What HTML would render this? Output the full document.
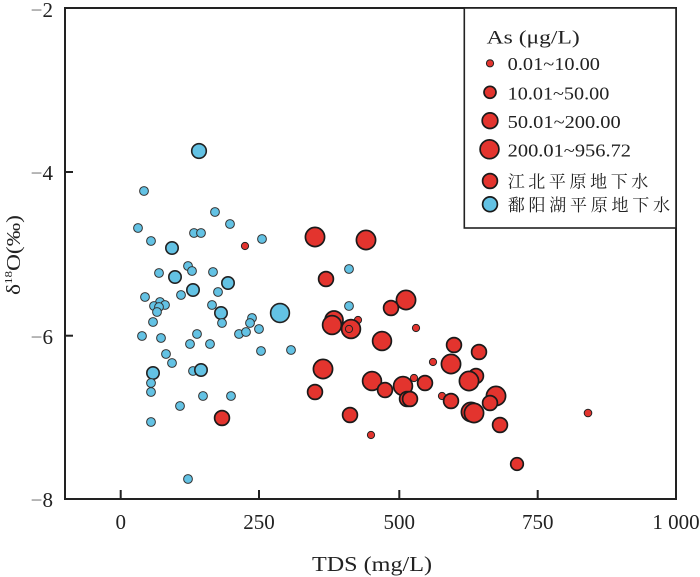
<!DOCTYPE html>
<html>
<head>
<meta charset="utf-8">
<style>
html,body{margin:0;padding:0;background:#fff;}
svg{display:block;}
text{font-family:"Liberation Serif","Noto Serif CJK SC","Noto Sans CJK SC",serif;fill:#222;}
.b{fill:#63C2E4;stroke:#333;stroke-width:1;}
.bl{fill:#63C2E4;stroke:#222;stroke-width:1.6;}
.r{fill:#E3342E;stroke:#222;stroke-width:1;}
.rl{fill:#E3342E;stroke:#1a1a1a;stroke-width:1.7;}
</style>
</head>
<body>
<svg width="700" height="577" viewBox="0 0 700 577" xmlns="http://www.w3.org/2000/svg">
<rect x="0" y="0" width="700" height="577" fill="#fff"/>

<!-- blue points -->
<g>
<circle class="b" cx="144" cy="191" r="4.4"/>
<circle class="b" cx="215" cy="212" r="4.4"/>
<circle class="b" cx="230" cy="224" r="4.4"/>
<circle class="b" cx="138" cy="228" r="4.4"/>
<circle class="b" cx="194" cy="233" r="4.4"/>
<circle class="b" cx="201" cy="233" r="4.4"/>
<circle class="b" cx="151" cy="241" r="4.4"/>
<circle class="bl" cx="172" cy="248" r="6.2"/>
<circle class="b" cx="262" cy="239" r="4.4"/>
<circle class="b" cx="349" cy="269" r="4.4"/>
<circle class="b" cx="188" cy="266" r="4.4"/>
<circle class="b" cx="192" cy="271" r="4.4"/>
<circle class="b" cx="159" cy="273" r="4.4"/>
<circle class="bl" cx="175" cy="277" r="6.2"/>
<circle class="b" cx="213" cy="272" r="4.4"/>
<circle class="bl" cx="228" cy="283" r="6.2"/>
<circle class="bl" cx="193" cy="290" r="6.2"/>
<circle class="b" cx="181" cy="295" r="4.4"/>
<circle class="b" cx="145" cy="297" r="4.4"/>
<circle class="b" cx="218" cy="292" r="4.4"/>
<circle class="b" cx="160" cy="302" r="4.4"/>
<circle class="b" cx="165" cy="305" r="4.4"/>
<circle class="b" cx="154" cy="306" r="4.4"/>
<circle class="b" cx="159" cy="307" r="4.4"/>
<circle class="b" cx="157" cy="312" r="4.4"/>
<circle class="b" cx="212" cy="305" r="4.4"/>
<circle class="bl" cx="221" cy="313" r="6.2"/>
<circle class="b" cx="222" cy="323" r="4.4"/>
<circle class="b" cx="252" cy="318" r="4.4"/>
<circle class="b" cx="250" cy="323" r="4.4"/>
<circle class="b" cx="259" cy="329" r="4.4"/>
<circle class="b" cx="239" cy="334" r="4.4"/>
<circle class="b" cx="246" cy="332" r="4.4"/>
<circle class="b" cx="349" cy="306" r="4.4"/>
<circle class="b" cx="153" cy="322" r="4.4"/>
<circle class="b" cx="142" cy="336" r="4.4"/>
<circle class="b" cx="161" cy="338" r="4.4"/>
<circle class="b" cx="197" cy="334" r="4.4"/>
<circle class="b" cx="190" cy="344" r="4.4"/>
<circle class="b" cx="210" cy="344" r="4.4"/>
<circle class="b" cx="166" cy="354" r="4.4"/>
<circle class="b" cx="172" cy="363" r="4.4"/>
<circle class="bl" cx="153" cy="373" r="6.2"/>
<circle class="b" cx="151" cy="383" r="4.4"/>
<circle class="b" cx="151" cy="392" r="4.4"/>
<circle class="b" cx="193" cy="371" r="4.4"/>
<circle class="bl" cx="201" cy="370" r="6.2"/>
<circle class="b" cx="261" cy="351" r="4.4"/>
<circle class="b" cx="291" cy="350" r="4.4"/>
<circle class="b" cx="203" cy="396" r="4.4"/>
<circle class="b" cx="231" cy="396" r="4.4"/>
<circle class="b" cx="180" cy="406" r="4.4"/>
<circle class="b" cx="151" cy="422" r="4.4"/>
<circle class="b" cx="188" cy="479" r="4.4"/>
<circle class="bl" cx="199" cy="151" r="7.3"/>
<circle class="bl" cx="280" cy="313" r="9.4"/>
</g>

<!-- red points -->
<g>
<circle class="r" cx="245" cy="246" r="3.6"/>
<circle class="rl" cx="315" cy="237" r="9.6"/>
<circle class="rl" cx="366" cy="240" r="9.6"/>
<circle class="rl" cx="326" cy="279" r="7.4"/>
<circle class="rl" cx="222" cy="418" r="7.4"/>
<circle class="rl" cx="334" cy="320" r="9"/>
<circle class="rl" cx="332" cy="325" r="9.4"/>
<circle class="r" cx="358" cy="320" r="3.6"/>
<circle class="rl" cx="351" cy="329" r="9.4"/>
<circle class="r" cx="349" cy="329" r="3.6"/>
<circle class="rl" cx="323" cy="369" r="9.6"/>
<circle class="rl" cx="315" cy="392" r="7.4"/>
<circle class="rl" cx="350" cy="415" r="7.4"/>
<circle class="r" cx="371" cy="435" r="3.6"/>
<circle class="rl" cx="406" cy="300" r="9.6"/>
<circle class="rl" cx="391" cy="308" r="7.4"/>
<circle class="r" cx="416" cy="328" r="3.6"/>
<circle class="rl" cx="382" cy="341" r="9.4"/>
<circle class="rl" cx="454" cy="345" r="7.4"/>
<circle class="rl" cx="479" cy="352" r="7.4"/>
<circle class="r" cx="433" cy="362" r="3.6"/>
<circle class="rl" cx="451" cy="364" r="9.6"/>
<circle class="rl" cx="372" cy="381" r="9.4"/>
<circle class="rl" cx="385" cy="390" r="7.4"/>
<circle class="r" cx="414" cy="378" r="3.6"/>
<circle class="rl" cx="403" cy="386" r="9.4"/>
<circle class="rl" cx="425" cy="383" r="7.4"/>
<circle class="rl" cx="407" cy="399" r="7.4"/>
<circle class="rl" cx="410" cy="399" r="7.4"/>
<circle class="r" cx="442" cy="396" r="3.6"/>
<circle class="rl" cx="451" cy="401" r="7.4"/>
<circle class="rl" cx="476" cy="376" r="7.4"/>
<circle class="rl" cx="469" cy="381" r="9.6"/>
<circle class="rl" cx="496" cy="396" r="9.6"/>
<circle class="rl" cx="490" cy="403" r="7.4"/>
<circle class="rl" cx="471" cy="412" r="9.6"/>
<circle class="rl" cx="474" cy="413" r="9.6"/>
<circle class="rl" cx="500" cy="425" r="7.4"/>
<circle class="r" cx="588" cy="413" r="3.8"/>
<circle class="rl" cx="517" cy="464" r="6.3"/>
</g>

<!-- frame -->
<rect x="65" y="8" width="611" height="491" fill="none" stroke="#222" stroke-width="2"/>
<!-- ticks -->
<g stroke="#222" stroke-width="2">
<line x1="65" y1="172" x2="73" y2="172"/>
<line x1="65" y1="335.7" x2="73" y2="335.7"/>
<line x1="120.7" y1="499" x2="120.7" y2="490"/>
<line x1="259" y1="499" x2="259" y2="490"/>
<line x1="399.3" y1="499" x2="399.3" y2="490"/>
<line x1="537.7" y1="499" x2="537.7" y2="490"/>
</g>

<!-- y tick labels -->
<g font-size="21" text-anchor="end">
<text x="53" y="17"><tspan fill="#777">−</tspan>2</text>
<text x="53" y="180"><tspan fill="#777">−</tspan>4</text>
<text x="53" y="344"><tspan fill="#777">−</tspan>6</text>
<text x="53" y="507"><tspan fill="#777">−</tspan>8</text>
</g>
<!-- x tick labels -->
<g font-size="21" text-anchor="middle">
<text x="120.7" y="529">0</text>
<text x="259" y="529">250</text>
<text x="399.3" y="529">500</text>
<text x="537.7" y="529">750</text>
<text x="676" y="529">1 000</text>
</g>

<!-- axis titles -->
<text x="312" y="571" font-size="21" textLength="120" lengthAdjust="spacingAndGlyphs">TDS  (mg/L)</text>
<text transform="translate(20,295) rotate(-90)" font-size="20" textLength="80" lengthAdjust="spacingAndGlyphs">δ<tspan font-size="11" dy="-8">18</tspan><tspan dy="8">O(‰)</tspan></text>

<!-- legend -->
<rect x="464.3" y="8" width="211.7" height="220" fill="#fff" stroke="#222" stroke-width="1.6"/>
<text x="486.7" y="43.5" font-size="19" textLength="93" lengthAdjust="spacingAndGlyphs">As (μg/L)</text>
<circle class="r" cx="490" cy="63.3" r="3.6"/>
<circle class="rl" cx="490" cy="92.3" r="6"/>
<circle class="rl" cx="490" cy="120.7" r="7.8"/>
<circle class="rl" cx="489.5" cy="149.3" r="9.4"/>
<circle class="rl" cx="490" cy="181" r="7.4"/>
<circle class="rl" fill="#63C2E4" style="fill:#63C2E4" cx="490" cy="204.3" r="7.4"/>
<g font-size="18">
<text x="507.7" y="70" textLength="92.3" lengthAdjust="spacingAndGlyphs">0.01~10.00</text>
<text x="507.7" y="99.3" textLength="101.6" lengthAdjust="spacingAndGlyphs">10.01~50.00</text>
<text x="507.7" y="128" textLength="113" lengthAdjust="spacingAndGlyphs">50.01~200.00</text>
<text x="507.7" y="156.7" textLength="123.3" lengthAdjust="spacingAndGlyphs">200.01~956.72</text>
</g>
<g font-size="17" fill="#333">
<text x="507.7" y="187.5" textLength="140.6" lengthAdjust="spacing" style="font-family:'Noto Serif CJK SC','Noto Sans CJK SC',serif;">江北平原地下水</text>
<text x="507.7" y="211" textLength="162.3" lengthAdjust="spacing" style="font-family:'Noto Serif CJK SC','Noto Sans CJK SC',serif;">鄱阳湖平原地下水</text>
</g>
</svg>
</body>
</html>
